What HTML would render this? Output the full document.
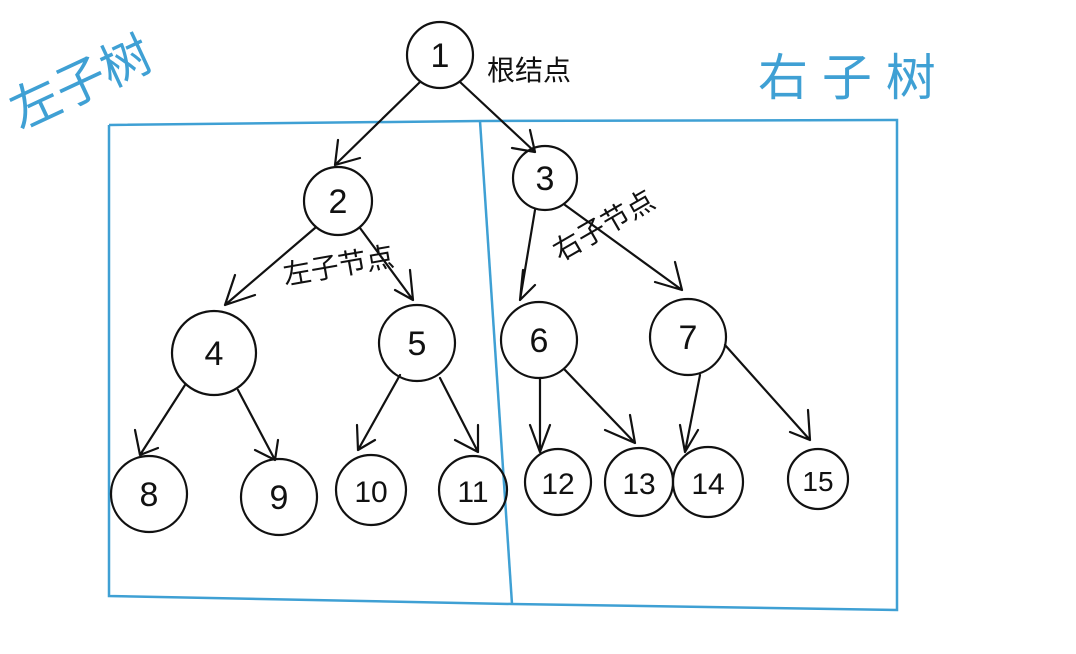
<!DOCTYPE html>
<html><head><meta charset="utf-8"><style>
html,body{margin:0;padding:0;background:#fff;width:1076px;height:654px;overflow:hidden}
svg text{font-family:"Liberation Sans","Noto Sans CJK SC",sans-serif}
</style></head><body>
<svg width="1076" height="654" viewBox="0 0 1076 654" xmlns="http://www.w3.org/2000/svg">
<g fill="none" stroke="#3fa0d4" stroke-width="2.5">
<polyline points="109,125 480,121 897,120 897,610 512,604 109,596 109,125"/>
<line x1="480" y1="121" x2="512" y2="604"/>
</g>
<g fill="none" stroke="#111" stroke-width="2.2" stroke-linecap="round">
<circle cx="440" cy="55" r="33"/>
<circle cx="338" cy="201" r="34"/>
<circle cx="545" cy="178" r="32"/>
<circle cx="214" cy="353" r="42"/>
<circle cx="417" cy="343" r="38"/>
<circle cx="539" cy="340" r="38"/>
<circle cx="688" cy="337" r="38"/>
<circle cx="149" cy="494" r="38"/>
<circle cx="279" cy="497" r="38"/>
<circle cx="371" cy="490" r="35"/>
<circle cx="473" cy="490" r="34"/>
<circle cx="558" cy="482" r="33"/>
<circle cx="639" cy="482" r="34"/>
<circle cx="708" cy="482" r="35"/>
<circle cx="818" cy="479" r="30"/>
<path d="M420,82 L335,165 M335,165 L338,140 M335,165 L360,158"/>
<path d="M460,82 L535,152 M535,152 L530,130 M535,152 L512,148"/>
<path d="M315,228 L225,305 M225,305 L235,275 M225,305 L255,295"/>
<path d="M360,228 L413,300 M413,300 L410,270 M413,300 L395,290"/>
<path d="M535,210 L520,300 M520,300 L523,270 M520,300 L535,285"/>
<path d="M565,205 L682,290 M682,290 L675,262 M682,290 L655,282"/>
<path d="M185,385 L140,455 M140,455 L135,430 M140,455 L158,448"/>
<path d="M238,390 L275,460 M275,460 L278,440 M275,460 L255,450"/>
<path d="M400,375 L358,450 M358,450 L357,425 M358,450 L375,440"/>
<path d="M440,378 L478,452 M478,452 L478,425 M478,452 L455,440"/>
<path d="M540,378 L540,452 M540,452 L530,425 M540,452 L550,425"/>
<path d="M565,370 L635,443 M635,443 L630,415 M635,443 L605,430"/>
<path d="M700,375 L685,452 M685,452 L680,425 M685,452 L698,430"/>
<path d="M725,345 L810,440 M810,440 L808,410 M810,440 L790,432"/>
</g>
<g fill="#111" font-size="34" text-anchor="middle">
<text x="440" y="67">1</text><text x="338" y="213">2</text><text x="545" y="190">3</text>
<text x="214" y="365">4</text><text x="417" y="355">5</text><text x="539" y="352">6</text>
<text x="688" y="349">7</text><text x="149" y="506">8</text><text x="279" y="509">9</text>
<text x="371" y="502" font-size="30">10</text><text x="473" y="502" font-size="30">11</text>
<text x="558" y="494" font-size="30">12</text><text x="639" y="494" font-size="30">13</text>
<text x="708" y="494" font-size="30">14</text><text x="818" y="491" font-size="28">15</text>
</g>
<g fill="#111" font-size="28">
<text x="487" y="80">根结点</text>
<text x="285" y="285" transform="rotate(-10 285 285)">左子节点</text>
<text x="560" y="262" transform="rotate(-30 560 262)">右子节点</text>
</g>
<g fill="#3fa0d4" font-size="50">
<text x="20" y="130" transform="rotate(-25 20 130)">左子树</text>
<text x="758" y="95">右 子 树</text>
</g>
</svg>
</body></html>
